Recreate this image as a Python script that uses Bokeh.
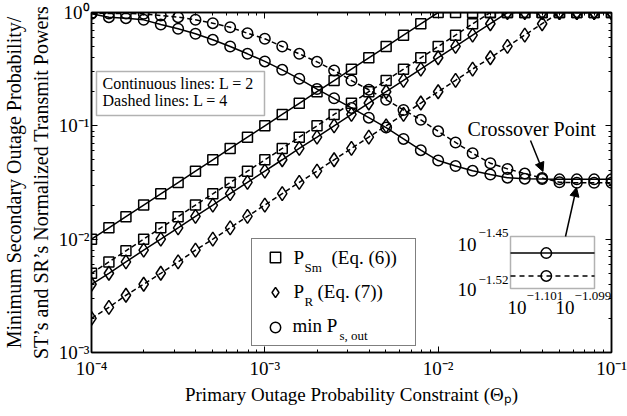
import math
from bokeh.plotting import figure
from bokeh.models import (Label, BoxAnnotation, Arrow, NormalHead, Legend, LegendItem,
                          LogAxis, FixedTicker, CustomJSTickFormatter, Range1d, LogScale)
from bokeh.embed import file_html
from bokeh.resources import INLINE

# ---------------- data ----------------
theta_p = [1.00e-4, 1.26e-4, 1.58e-4, 2.00e-4, 2.51e-4, 3.16e-4, 3.98e-4, 5.01e-4, 6.31e-4, 7.94e-4,
           1.00e-3, 1.26e-3, 1.58e-3, 2.00e-3, 2.51e-3, 3.16e-3, 3.98e-3, 5.01e-3, 6.31e-3, 7.94e-3,
           1.00e-2, 1.26e-2, 1.58e-2, 2.00e-2, 2.51e-2, 3.16e-2, 3.98e-2, 5.01e-2, 6.31e-2, 7.94e-2,
           1.00e-1]

p_sm_L2 = [0.0100, 0.0126, 0.0158, 0.0200, 0.0251, 0.0316, 0.0398, 0.0501, 0.0631, 0.0794,
           0.100, 0.126, 0.158, 0.200, 0.251, 0.316, 0.398, 0.501, 0.631, 0.794,
           1.0, 1.0, 1.0, 1.0, 1.0, 1.0, 1.0, 1.0, 1.0, 1.0, 1.0]
p_sm_L4 = [0.0050, 0.0063, 0.0079, 0.0100, 0.0126, 0.0158, 0.0200, 0.0251, 0.0316, 0.0398,
           0.0501, 0.0631, 0.0794, 0.100, 0.126, 0.158, 0.200, 0.251, 0.316, 0.398,
           0.501, 0.631, 0.794, 1.0, 1.0, 1.0, 1.0, 1.0, 1.0, 1.0, 1.0]
p_r_L2 = [0.0040, 0.0050, 0.0063, 0.0080, 0.0100, 0.0126, 0.0159, 0.0200, 0.0252, 0.0317,
          0.0399, 0.0502, 0.0632, 0.0796, 0.100, 0.126, 0.159, 0.200, 0.252, 0.317,
          0.399, 0.502, 0.632, 0.796, 1.0, 1.0, 1.0, 1.0, 1.0, 1.0, 1.0]
p_r_L4 = [0.0020, 0.0025, 0.0032, 0.0040, 0.0050, 0.0063, 0.0080, 0.0100, 0.0126, 0.0159,
          0.0200, 0.0252, 0.0317, 0.0399, 0.0502, 0.0632, 0.0796, 0.100, 0.126, 0.159,
          0.200, 0.252, 0.317, 0.399, 0.502, 0.632, 0.796, 1.0, 1.0, 1.0, 1.0]
p_out_L2 = [0.975, 0.910, 0.891, 0.861, 0.783, 0.718, 0.649, 0.574, 0.501, 0.432,
            0.370, 0.312, 0.260, 0.211, 0.175, 0.144, 0.118, 0.0966, 0.0767, 0.0610,
            0.0494, 0.0442, 0.0401, 0.0372, 0.0349, 0.0342, 0.0339, 0.0337, 0.0337, 0.0337, 0.0337]
p_out_L4 = [0.986, 0.980, 0.980, 0.975, 0.941, 0.910, 0.863, 0.805, 0.741, 0.656,
            0.586, 0.501, 0.432, 0.367, 0.308, 0.251, 0.208, 0.170, 0.138, 0.113,
            0.0894, 0.0713, 0.0573, 0.0468, 0.0417, 0.0379, 0.0346, 0.0318, 0.0314, 0.0314, 0.0314]

x_ticks = [1e-4, 1e-3, 1e-2, 1e-1]
y_ticks = [1e-3, 1e-2, 1e-1, 1e0]
inset_index = 29                      # zoomed point (Theta_p = 10^-1.1)
inset_xlim_log = (-1.10167, -1.09817)
inset_ylim_log = (-1.52, -1.45)
inset_xticks_log = [-1.101, -1.099]
inset_yticks_log = [-1.45, -1.52]

FONT = "Liberation Serif"
BIG = "19px"
SUP = "13px"

# ---------------- figure ----------------
FL, FT, FW, FH = 89, 12, 520, 340          # frame left/top (canvas px) and size
FB = FT + FH

p = figure(x_axis_type="log", y_axis_type="log", x_range=(1e-4, 1e-1), y_range=(1e-3, 1.0),
           frame_width=FW, frame_height=FH, min_border_left=FL, min_border_right=18,
           min_border_top=FT, min_border_bottom=62, title=None,
           output_backend="svg", toolbar_location=None)
p.grid.visible = False
p.outline_line_color = "black"
p.outline_line_width = 1.5
p.background_fill_color = "white"
p.border_fill_color = "white"

p.add_layout(LogAxis(), "above")
p.add_layout(LogAxis(), "right")

x_minor = [m * t for t in x_ticks[:-1] for m in range(2, 10)]
y_minor = [m * t for t in y_ticks[:-1] for m in range(2, 10)]

SUP_JS = """
const sup = {"-": "\u207b", "0": "\u2070", "1": "\u00b9", "2": "\u00b2", "3": "\u00b3",
             "4": "\u2074", "5": "\u2075", "6": "\u2076", "7": "\u2077", "8": "\u2078", "9": "\u2079"};
const e = Math.round(Math.log10(tick));
return "10" + String(e).split("").map((c) => sup[c]).join("");
"""

for ax in p.xaxis:
    ax.ticker = FixedTicker(ticks=x_ticks, minor_ticks=x_minor)
for ax in p.yaxis:
    ax.ticker = FixedTicker(ticks=y_ticks, minor_ticks=y_minor)
for ax in p.axis:
    ax.formatter = CustomJSTickFormatter(code="return ''")
    ax.major_tick_in = 6
    ax.major_tick_out = 0
    ax.minor_tick_in = 3
    ax.minor_tick_out = 0
    ax.axis_line_width = 1.5
    ax.axis_line_color = "black"
    ax.major_tick_line_color = "black"
    ax.minor_tick_line_color = "black"
    ax.major_label_standoff = 0
    ax.axis_label_standoff = 0
    ax.major_label_text_font = FONT
    ax.major_label_text_font_size = BIG
    ax.major_label_text_color = "black"
    ax.axis_label_text_font = FONT
    ax.axis_label_text_font_size = BIG
    ax.axis_label_text_font_style = "normal"
    ax.axis_label_text_color = "black"

xb = p.below[0]
yl = p.left[0]
xb.formatter = CustomJSTickFormatter(code=SUP_JS)
yl.formatter = CustomJSTickFormatter(code=SUP_JS)
xb.major_label_standoff = 5
yl.major_label_standoff = 2
xb.axis_label = "Primary Outage Probability Constraint (\u0398\u209a)"
xb.axis_label_standoff = 2
yl.axis_label = "Minimum Secondary Outage Probability/\nST\u2019s and SR\u2019s Normalized Transmit Powers"
yl.axis_label_text_font_size = "20px"
yl.axis_label_standoff = 4


def sx(px):
    return px - FL


def sy(py):
    return FB - py


def txt(text, x, y, size=BIG, align="left", baseline="middle", angle=0.0,
        x_units="screen", y_units="screen", **kw):
    lab = Label(x=x, y=y, x_units=x_units, y_units=y_units, text=text, text_font=FONT,
                text_font_size=size, text_color="black", text_align=align,
                text_baseline=baseline, angle=angle, **kw)
    p.add_layout(lab)
    return lab


def sup_text(e):
    return ("%g" % e).replace("-", "\u2212")


# ---------------- series ----------------
LW = 1.5
DASH = "5 3"


def series(y, dash, marker, size):
    p.line(theta_p, y, line_color="black", line_width=LW, line_dash=dash)
    return p.scatter(theta_p, y, marker=marker, size=size, fill_color=None,
                     line_color="black", line_width=LW)


r_sq = series(p_sm_L2, "solid", "square", 10)
series(p_sm_L4, DASH, "square", 10)
r_di = series(p_r_L2, "solid", "diamond", 14)
series(p_r_L4, DASH, "diamond", 14)
r_ci = series(p_out_L2, "solid", "circle", 10.5)
series(p_out_L4, DASH, "circle", 10.5)

# ---------------- "Continuous / Dashed" box ----------------
p.add_layout(BoxAnnotation(left=sx(94), right=sx(262), top=sy(71), bottom=sy(115),
                           left_units="screen", right_units="screen", top_units="screen",
                           bottom_units="screen", fill_color="white", fill_alpha=1.0,
                           line_color="black", line_width=1.5, level="underlay"))
txt("Continuous lines: L = 2", sx(100), sy(83), size="16px")
txt("Dashed lines: L = 4", sx(100), sy(100), size="16px")

# ---------------- legend ----------------
legend = Legend(items=[LegendItem(label=" ", renderers=[r_sq]),
                       LegendItem(label=" ", renderers=[r_di]),
                       LegendItem(label=" ", renderers=[r_ci])],
                location=(sx(249), sy(346)), padding=5, spacing=9,
                glyph_height=26, glyph_width=36, label_height=26, label_width=112,
                label_standoff=5, label_text_font_size="10px", margin=0,
                border_line_color="black", border_line_width=1.5,
                background_fill_alpha=0.0)
p.add_layout(legend)
txt("P", sx(291), sy(257))
txt("Sm", sx(302), sy(267), size=SUP)
txt("(Eq. (6))", sx(329), sy(257))
txt("P", sx(291), sy(291))
txt("R", sx(302), sy(301), size=SUP)
txt("(Eq. (7))", sx(315), sy(291))
txt("min P", sx(290), sy(325))
txt("s, out", sx(337), sy(335), size=SUP)

# ---------------- crossover annotation ----------------
txt("Crossover Point", sx(465), sy(128), size="20px")
p.add_layout(Arrow(end=NormalHead(size=9, fill_color="black", line_color="black"),
                   x_start=sx(528), y_start=sy(140), x_end=sx(540.5), y_end=sy(171),
                   start_units="screen", end_units="screen", line_width=1.5, line_color="black"))

# ---------------- inset ----------------
ib_l, ib_r, ib_t, ib_b = 508, 592, 236, 288       # inset box (canvas px)
fx0, fx1 = (ib_l - FL) / FW, (ib_r - FL) / FW
fy0, fy1 = (FB - ib_b) / FH, (FB - ib_t) / FH
spx = (inset_xlim_log[1] - inset_xlim_log[0]) / (fx1 - fx0)
spy = (inset_ylim_log[1] - inset_ylim_log[0]) / (fy1 - fy0)
x0 = inset_xlim_log[0] - fx0 * spx
y0 = inset_ylim_log[0] - fy0 * spy
p.extra_x_ranges = {"ix": Range1d(10 ** x0, 10 ** (x0 + spx))}
p.extra_y_ranges = {"iy": Range1d(10 ** y0, 10 ** (y0 + spy))}
p.extra_x_scales = {"ix": LogScale()}
p.extra_y_scales = {"iy": LogScale()}

p.add_layout(BoxAnnotation(left=10 ** inset_xlim_log[0], right=10 ** inset_xlim_log[1],
                           bottom=10 ** inset_ylim_log[0], top=10 ** inset_ylim_log[1],
                           x_range_name="ix", y_range_name="iy", fill_color="white",
                           fill_alpha=1.0, line_color="black", line_width=1.5, level="underlay"))
ix_ends = [10 ** inset_xlim_log[0], 10 ** inset_xlim_log[1]]
for ser, dash in ((p_out_L2, "solid"), (p_out_L4, "5 4")):
    yv = ser[inset_index]
    p.line(ix_ends, [yv, yv], x_range_name="ix", y_range_name="iy",
           line_color="black", line_width=LW, line_dash=dash)
    p.scatter([theta_p[inset_index]], [yv], x_range_name="ix", y_range_name="iy",
              marker="circle", size=10.5, fill_color=None, line_color="black", line_width=LW)

for t, py10, pysup in ((inset_yticks_log[0], 243.5, 232), (inset_yticks_log[1], 288.5, 279)):
    txt("10", sx(474), sy(py10), align="right")
    txt(sup_text(t), sx(476), sy(pysup), size=SUP)
for t in inset_xticks_log:
    txt("10", 10 ** t, sy(306.5), align="right", x_units="data", x_range_name="ix")
    txt(sup_text(t), 10 ** t, sy(295), size=SUP, x_units="data", x_range_name="ix")

p.add_layout(Arrow(end=NormalHead(size=9, fill_color="black", line_color="black"),
                   x_start=sx(563), y_start=sy(236), x_end=sx(574), y_end=sy(187),
                   start_units="screen", end_units="screen", line_width=1.5, line_color="black"))

open("out.html", "w").write(file_html(p, INLINE))
